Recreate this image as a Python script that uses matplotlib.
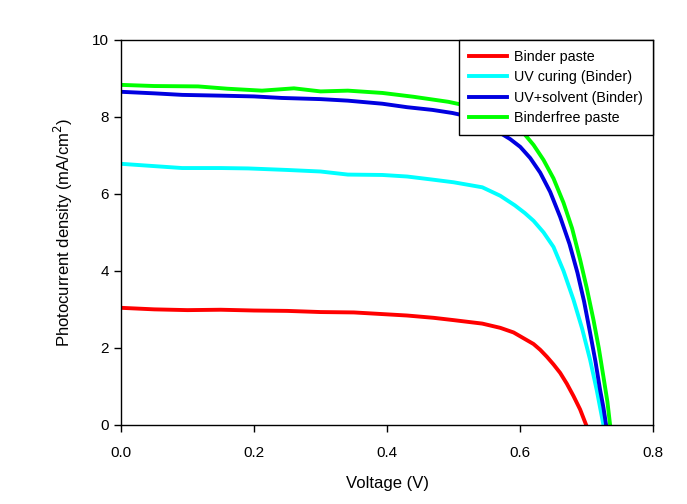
import matplotlib.pyplot as plt
import numpy as np

plt.rcParams['font.family'] = ['Liberation Sans', 'DejaVu Sans']

# J-V curves
v_red = [0.0, 0.05, 0.1, 0.15, 0.2, 0.25, 0.3, 0.35, 0.4, 0.43, 0.47, 0.5, 0.543, 0.57, 0.59, 0.6, 0.61, 0.62, 0.63, 0.64, 0.65, 0.66, 0.67, 0.68, 0.69, 0.699]
j_red = [3.04, 3.0, 2.98, 2.99, 2.97, 2.96, 2.93, 2.92, 2.87, 2.84, 2.78, 2.72, 2.63, 2.52, 2.4, 2.3, 2.2, 2.1, 1.95, 1.77, 1.57, 1.35, 1.07, 0.75, 0.4, 0.0]

v_cyan = [0.0, 0.05, 0.092, 0.15, 0.191, 0.25, 0.3, 0.341, 0.393, 0.43, 0.468, 0.5, 0.543, 0.57, 0.592, 0.607, 0.62, 0.635, 0.65, 0.665, 0.68, 0.693, 0.705, 0.715, 0.725]
j_cyan = [6.78, 6.72, 6.67, 6.67, 6.66, 6.62, 6.58, 6.50, 6.49, 6.45, 6.37, 6.30, 6.17, 5.95, 5.70, 5.50, 5.30, 5.00, 4.62, 4.00, 3.25, 2.50, 1.69, 0.90, 0.0]

v_blue = [0.0, 0.05, 0.092, 0.15, 0.2, 0.242, 0.3, 0.341, 0.393, 0.43, 0.468, 0.498, 0.53, 0.55, 0.57, 0.585, 0.6, 0.615, 0.63, 0.645, 0.66, 0.674, 0.686, 0.696, 0.705, 0.713, 0.72, 0.725, 0.729]
j_blue = [8.65, 8.61, 8.57, 8.55, 8.53, 8.49, 8.46, 8.42, 8.34, 8.25, 8.18, 8.10, 7.98, 7.82, 7.58, 7.42, 7.22, 6.93, 6.55, 6.05, 5.40, 4.70, 3.95, 3.20, 2.39, 1.65, 0.91, 0.45, 0.0]

v_green = [0.0, 0.05, 0.116, 0.16, 0.212, 0.26, 0.3, 0.341, 0.393, 0.44, 0.492, 0.53, 0.57, 0.59, 0.605, 0.62, 0.635, 0.65, 0.665, 0.678, 0.69, 0.70, 0.71, 0.718, 0.725, 0.731, 0.735]
j_green = [8.83, 8.80, 8.79, 8.73, 8.68, 8.74, 8.66, 8.68, 8.62, 8.52, 8.39, 8.25, 7.98, 7.80, 7.58, 7.27, 6.88, 6.40, 5.77, 5.10, 4.29, 3.55, 2.73, 2.00, 1.25, 0.60, 0.0]

labels = ['Binder paste', 'UV curing (Binder)', 'UV+solvent (Binder)', 'Binderfree paste']
colors = ['#ff0000', '#00ffff', '#0000e0', '#00ff00']


def main():
    fig = plt.figure(figsize=(6.87, 5.04), dpi=100)
    ax = fig.add_axes([0.176, 0.157, 0.775, 0.764])
    series = [(v_red, j_red), (v_cyan, j_cyan), (v_blue, j_blue), (v_green, j_green)]
    for (v, j), lab, c in zip(series, labels, colors):
        ax.plot(v, j, color=c, lw=2.8, label=lab, solid_joinstyle='round')
    ax.set_xlim(0, 0.8)
    ax.set_ylim(0, 10)
    ax.set_xticks(np.arange(0, 0.81, 0.2))
    ax.set_xticklabels(['0.0', '0.2', '0.4', '0.6', '0.8'])
    ax.set_yticks(range(0, 11, 2))
    ax.tick_params(direction='out', length=5, width=1, labelsize=11, color='black', top=False, right=False)
    ax.tick_params(axis='x', pad=10)
    for s in ax.spines.values():
        s.set_linewidth(1)
    ax.set_xlabel('Voltage (V)', fontsize=12, labelpad=12)
    ax.set_ylabel('Photocurrent density (mA/cm$^2$)', fontsize=12, labelpad=12)
    leg = ax.legend(loc='upper right', bbox_to_anchor=(1.0, 1.0), frameon=True, fancybox=False,
                    edgecolor='black', framealpha=1, fontsize=10.3, handlelength=2.6, borderaxespad=0,
                    labelspacing=0.45, handletextpad=0.55, borderpad=0.7)
    leg.get_frame().set_linewidth(1)
    fig.savefig('out.png', dpi=100)


if __name__ == '__main__':
    main()
